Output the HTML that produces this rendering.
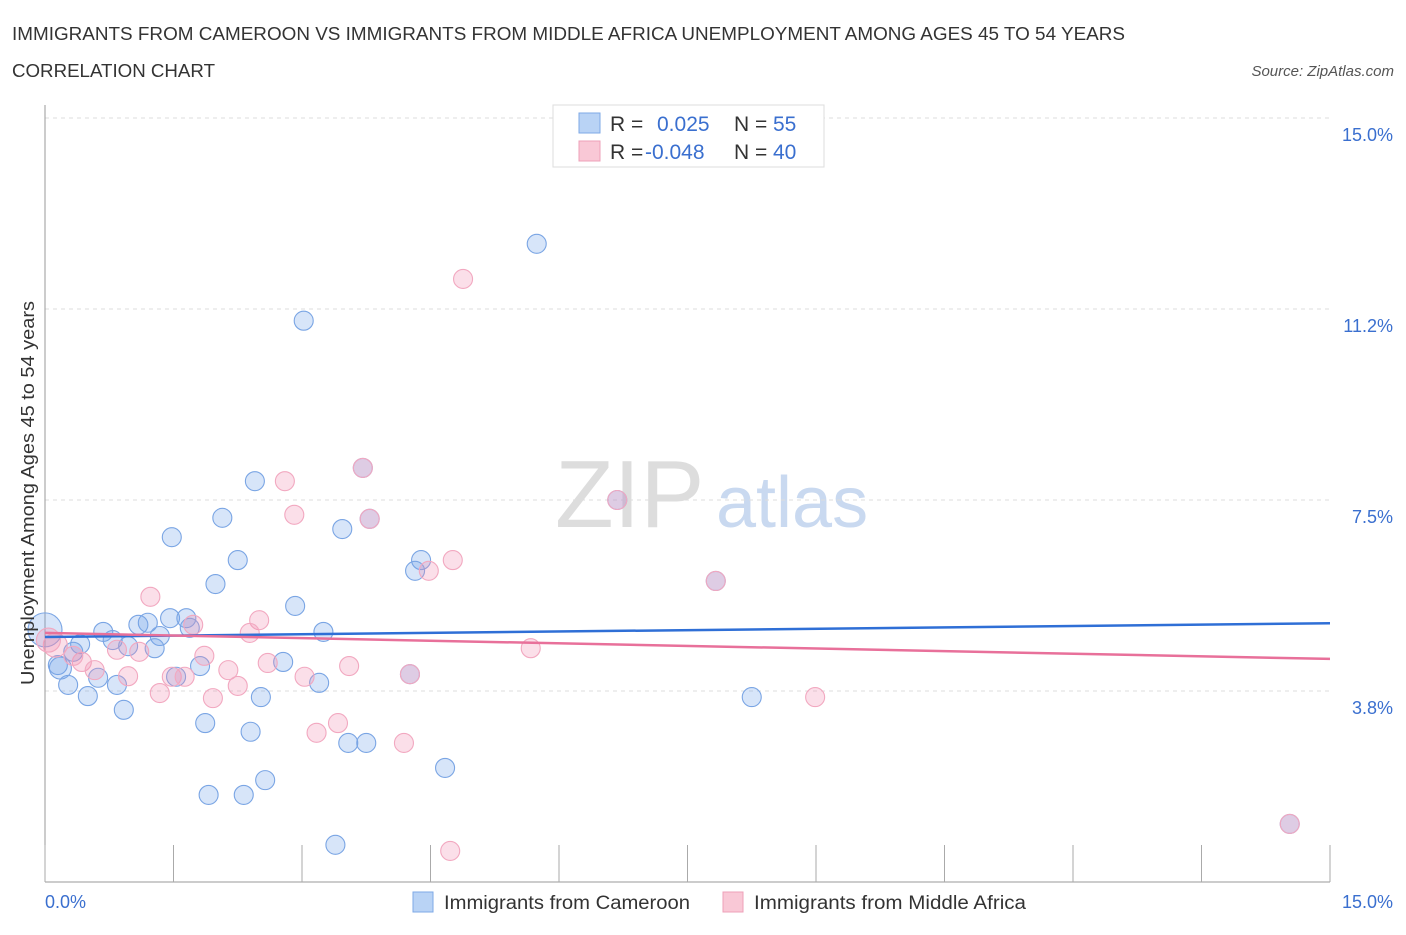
<!DOCTYPE html>
<html><head><meta charset="utf-8">
<style>
body{margin:0;background:#fff;font-family:"Liberation Sans",sans-serif;}
svg text{font-family:"Liberation Sans",sans-serif;}
</style></head>
<body>
<svg id="chart" width="1406" height="930" xmlns="http://www.w3.org/2000/svg">
<text x="12" y="40" font-size="18" fill="#333" textLength="1113" lengthAdjust="spacingAndGlyphs">IMMIGRANTS FROM CAMEROON VS IMMIGRANTS FROM MIDDLE AFRICA UNEMPLOYMENT AMONG AGES 45 TO 54 YEARS</text>
<text x="12" y="77" font-size="18" fill="#333" textLength="203" lengthAdjust="spacingAndGlyphs">CORRELATION CHART</text>
<text x="1394" y="76" font-size="15" fill="#555" font-style="italic" text-anchor="end">Source: ZipAtlas.com</text>
<g>
<text x="555" y="527" font-size="96" fill="#ddd" font-family="Liberation Serif, serif">ZIP</text>
<text x="716" y="527" font-size="72" fill="#c9d9f0">atlas</text>
</g>
<g id="grid"></g>
<g id="axes"></g>
<g id="points"></g>
<g id="trends"></g>
<text transform="translate(34,493) rotate(-90)" font-size="18" fill="#333" text-anchor="middle" textLength="384" lengthAdjust="spacingAndGlyphs">Unemployment Among Ages 45 to 54 years</text>
<g>
<rect x="553" y="105" width="271" height="62" fill="#fff" stroke="#ddd"/>
<rect x="579" y="113" width="21" height="20" fill="#b9d3f5" stroke="#7ea8e6"/>
<rect x="579" y="141" width="21" height="20" fill="#f9c8d6" stroke="#eea0b8"/>
<text x="610" y="131" font-size="21" fill="#333">R =</text>
<text x="657" y="131" font-size="21" fill="#3a6fcf">0.025</text>
<text x="734" y="131" font-size="21" fill="#333">N =</text>
<text x="773" y="131" font-size="21" fill="#3a6fcf">55</text>
<text x="610" y="159" font-size="21" fill="#333">R =</text>
<text x="645" y="159" font-size="21" fill="#3a6fcf">-0.048</text>
<text x="734" y="159" font-size="21" fill="#333">N =</text>
<text x="773" y="159" font-size="21" fill="#3a6fcf">40</text>
</g>
<g>
<rect x="413" y="892" width="20" height="20" fill="#b9d3f5" stroke="#7ea8e6"/>
<text x="444" y="909" font-size="19" fill="#333" textLength="246" lengthAdjust="spacingAndGlyphs">Immigrants from Cameroon</text>
<rect x="723" y="892" width="20" height="20" fill="#f9c8d6" stroke="#eea0b8"/>
<text x="754" y="909" font-size="19" fill="#333" textLength="272" lengthAdjust="spacingAndGlyphs">Immigrants from Middle Africa</text>
</g>
</svg>
<script>
const yTicks=[3.75,7.5,11.25,15];
const yTickLabels=["3.8%","7.5%","11.2%","15.0%"];
const xTicks=[0,1.5,3,4.5,6,7.5,9,10.5,12,13.5,15];
const blueX=[5.74,3.02,2.45,2.07,1.48,3.47,2.25,1.99,4.39,4.32,2.92,1.46,1.65,1.20,1.09,0.68,0.79,1.34,1.69,0.97,1.28,0.41,0.33,3.25,0.15,0.27,0.50,0.62,0.84,0.92,1.53,1.81,2.78,3.20,2.52,1.87,2.40,3.54,3.75,4.67,2.57,1.91,2.32,3.39,8.25,0.18,3.71,3.79,6.68,7.83,4.26,14.53];
const blueY=[12.53,11.02,7.87,7.15,6.77,6.93,6.32,5.85,6.32,6.11,5.42,5.18,5.18,5.09,5.05,4.91,4.75,4.83,4.99,4.63,4.59,4.67,4.52,4.91,4.26,3.87,3.65,4.01,3.87,3.38,4.03,4.24,4.32,3.91,3.63,3.12,2.95,2.73,2.73,2.24,2.00,1.71,1.71,0.73,3.63,4.20,8.13,7.13,7.50,5.91,4.08,1.14];
const pinkX=[4.88,2.80,2.91,4.76,4.48,1.23,2.50,1.73,2.39,0.84,1.10,0.43,0.58,0.33,0.97,1.34,1.48,1.63,1.86,1.96,2.14,2.25,2.60,3.03,3.55,5.67,3.17,3.42,4.19,4.73,8.99,0.12,0.04,3.71,3.79,6.68,7.83,4.26,14.53];
const pinkY=[11.84,7.87,7.21,6.32,6.11,5.60,5.14,5.05,4.89,4.56,4.52,4.32,4.16,4.44,4.04,3.71,4.03,4.03,4.44,3.61,4.16,3.85,4.30,4.03,4.24,4.59,2.93,3.12,2.73,0.61,3.63,4.65,4.75,8.13,7.13,7.50,5.91,4.08,1.14];
const blueTrend=[4.81,5.08];
const pinkTrend=[4.89,4.38];
const NS="http://www.w3.org/2000/svg";
const sx=v=>45+v*(1285/15), sy=v=>882-v*(764/15);
function mk(tag,attrs,parent){const e=document.createElementNS(NS,tag);for(const k in attrs)e.setAttribute(k,attrs[k]);parent.appendChild(e);return e;}
const grid=document.getElementById('grid'),axes=document.getElementById('axes'),pts=document.getElementById('points'),tr=document.getElementById('trends');
yTicks.forEach((t,i)=>{
 const l=mk('line',{x1:45,x2:1330,y1:sy(t),y2:sy(t),stroke:'#ddd','stroke-dasharray':'4,4'},grid);
 
 
 const tx=mk('text',{x:1393,y:sy(t)+23,'font-size':18,fill:'#3a6fcf','text-anchor':'end'},axes);
 tx.textContent=yTickLabels[i];
 
 
});
const ya=mk('line',{x1:45,x2:45,y1:105,y2:882,stroke:'#999'},axes);


const xa=mk('line',{x1:45,x2:1330,y1:882,y2:882,stroke:'#999'},axes);


xTicks.forEach(t=>{
 const l=mk('line',{x1:sx(t),x2:sx(t),y1:845,y2:882,stroke:'#aaa'},axes);
 
 
});
const x0=mk('text',{x:45,y:908,'font-size':18,fill:'#3a6fcf'},axes);x0.textContent='0.0%';


const x1=mk('text',{x:1393,y:908,'font-size':18,fill:'#3a6fcf','text-anchor':'end'},axes);x1.textContent='15.0%';


blueX.forEach((v,i)=>{
 const c=mk('circle',{cx:sx(v),cy:sy(blueY[i]),r:(v===0.18?11:9.5),fill:'rgba(110,160,235,0.28)',stroke:'#7aa5e4','stroke-width':1.1},pts);
 
 
});
const big=mk('circle',{cx:sx(0),cy:sy(4.95),r:17,fill:'rgba(110,160,235,0.28)',stroke:'#7aa5e4','stroke-width':1.1},pts);


pinkX.forEach((v,i)=>{
 const c=mk('circle',{cx:sx(v),cy:sy(pinkY[i]),r:(v<0.2?12:9.5),fill:'rgba(240,140,175,0.28)',stroke:'#f2a8c0','stroke-width':1.1},pts);
 
 
});
const bl=mk('line',{x1:sx(0),x2:sx(15),y1:sy(blueTrend[0]),y2:sy(blueTrend[1]),stroke:'#2f6fd6','stroke-width':2.5},tr);


const pl=mk('line',{x1:sx(0),x2:sx(15),y1:sy(pinkTrend[0]),y2:sy(pinkTrend[1]),stroke:'#e8709a','stroke-width':2.5},tr);


</script>
</body></html>
